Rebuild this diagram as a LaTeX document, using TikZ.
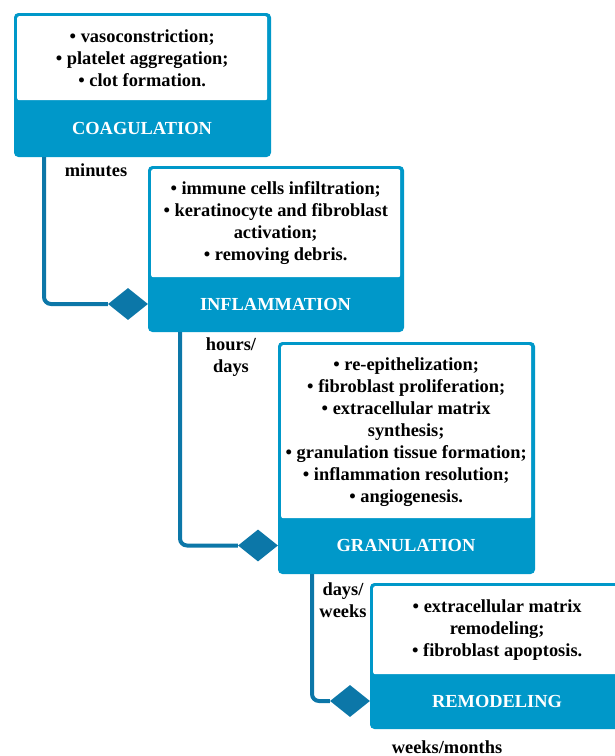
\documentclass[tikz,border=0pt]{standalone}
\usepackage{fontspec}
\setmainfont{Liberation Serif}
\usetikzlibrary{shapes.geometric}
\definecolor{stageblue}{HTML}{0098C9}
\definecolor{linkblue}{HTML}{0C77A8}
\tikzset{
  stagebox/.style={draw=stageblue,fill=stageblue,line width=1pt,rounded corners=4pt,anchor=north west,inner sep=0pt},
  itemsbox/.style={fill=white,rounded corners=2pt,anchor=north west,inner sep=0pt,align=center,font=\bfseries\fontsize{18.4}{22}\selectfont},
  headtxt/.style={text=white,font=\bfseries\fontsize{18.4}{22}\selectfont},
  timetxt/.style={align=center,font=\bfseries\fontsize{18.4}{21.5}\selectfont},
  gem/.style={diamond,fill=linkblue,minimum width=40pt,minimum height=32pt,inner sep=0pt},
  flow/.style={draw=linkblue,line width=4pt,rounded corners=7pt}
}
\begin{document}
\begin{tikzpicture}[x=1pt,y=-1pt]
  \useasboundingbox (0,0) rectangle (614,756);
  % coagulation
  \node[stagebox,minimum width=256pt,minimum height=143pt] (coag) at (14,13) {};
  \node[itemsbox,minimum width=250pt,minimum height=84pt] (coagtxt) at (17,16)
    {\textbullet\ vasoconstriction;\\ \textbullet\ platelet aggregation;\\ \textbullet\ clot formation.};
  \node[headtxt] (coaghd) at (142,128) {COAGULATION};
  % inflammation
  \node[stagebox,minimum width=255pt,minimum height=165pt] (infl) at (148,166) {};
  \node[itemsbox,minimum width=249pt,minimum height=108pt] (infltxt) at (151,169)
    {\textbullet\ immune cells infiltration;\\ \textbullet\ keratinocyte and fibroblast\\ activation;\\ \textbullet\ removing debris.};
  \node[headtxt] (inflhd) at (275.5,304) {INFLAMMATION};
  % granulation
  \node[stagebox,minimum width=256pt,minimum height=231pt] (gran) at (278,342) {};
  \node[itemsbox,minimum width=250pt,minimum height=173pt] (grantxt) at (281,345)
    {\textbullet\ re-epithelization;\\ \textbullet\ fibroblast proliferation;\\ \textbullet\ extracellular matrix\\ synthesis;\\
     \textbullet\ granulation tissue formation;\\ \textbullet\ inflammation resolution;\\ \textbullet\ angiogenesis.};
  \node[headtxt] (granhd) at (406,545.5) {GRANULATION};
  % remodeling
  \node[stagebox,minimum width=254pt,minimum height=145pt] (remod) at (370,583) {};
  \node[itemsbox,minimum width=248pt,minimum height=88pt] (remodtxt) at (373,586)
    {\textbullet\ extracellular matrix\\ remodeling;\\ \textbullet\ fibroblast apoptosis.};
  \node[headtxt] (remodhd) at (497,701) {REMODELING};
  % connectors
  \node[gem] (d1) at (128,304) {};
  \node[gem] (d2) at (258,545.5) {};
  \node[gem] (d3) at (350,701) {};
  \draw[flow] ([xshift=30pt]coag.south west) |- (d1);
  \draw[flow] ([xshift=32pt]infl.south west) |- (d2);
  \draw[flow] ([xshift=34pt]gran.south west) |- (d3);
  % times
  \node[timetxt] (t1) at (96,170) {minutes};
  \node[timetxt] (t2) at (231,357) {hours/\\ days};
  \node[timetxt] (t3) at (343,600) {days/\\ weeks};
  \node[timetxt] (t4) at (447,747) {weeks/months};
\end{tikzpicture}
\end{document}
